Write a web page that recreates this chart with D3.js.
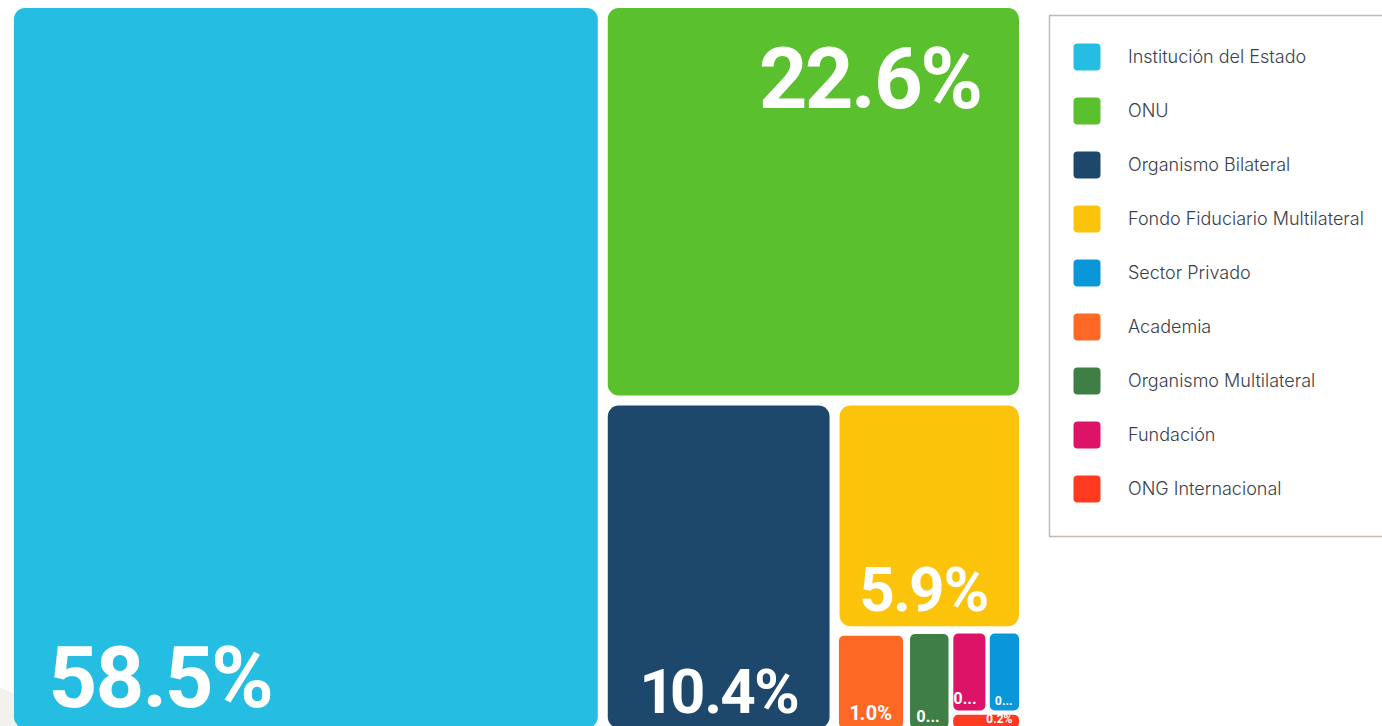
<!DOCTYPE html>
<html><head><meta charset="utf-8">
<script src="https://cdn.jsdelivr.net/npm/d3@7"></script>
<style>
html,body{margin:0;padding:0;background:#fff;overflow:hidden}
svg{display:block}
.lbl{font-variant-numeric:proportional-nums}
</style></head><body>
<svg id="chart" width="1382" height="726"></svg>
<script>
// ---- data ----
const categories = ["Institución del Estado","ONU","Organismo Bilateral","Fondo Fiduciario Multilateral","Sector Privado","Academia","Organismo Multilateral","Fundación","ONG Internacional"];
const shares = [58.5, 22.6, 10.4, 5.9, 0.4, 1.0, 0.6, 0.4, 0.2];
const colors = ["#26BDE2","#5AC02E","#1D476B","#FCC30B","#0A97D9","#FD6925","#3F7E44","#DD1367","#FF3A21"];

// ---- style config ----
const labelAnchor = {"Institución del Estado":"bottom-left","ONU":"top-right"}; // others bottom-right
const TW = 1015, TH = 730, OX = 9, OY = 3, VIEW_H = 726;
const svg = d3.select("#chart");
const fmt = d3.format(".1f");

// background decoration
svg.append("circle").attr("cx",-40).attr("cy",790).attr("r",110).attr("fill","#f2f1ec");

// strip tiling: each value (or run of equal values) takes a strip along the shorter side
function stripTile(parent, x0, y0, x1, y1) {
  const nodes = parent.children;
  let value = parent.value, i = 0;
  while (i < nodes.length) {
    let j = i + 1;
    const key = fmt(nodes[i].value);
    while (j < nodes.length && fmt(nodes[j].value) === key) j++;
    const row = nodes.slice(i, j);
    const rowValue = d3.sum(row, d => d.value);
    const k = value ? rowValue / value : 0;
    const last = j === nodes.length;
    const group = {children: row, value: rowValue};
    if (x1 - x0 >= y1 - y0) {
      const xe = last ? x1 : x0 + (x1 - x0) * k;
      d3.treemapSlice(group, x0, y0, xe, y1);
      x0 = xe;
    } else {
      const ye = last ? y1 : y0 + (y1 - y0) * k;
      d3.treemapDice(group, x0, y0, x1, ye);
      y0 = ye;
    }
    value -= rowValue;
    i = j;
  }
}

const data = categories.map((c, i) => ({name: c, value: shares[i], color: colors[i], idx: i}));
const root = d3.hierarchy({children: data})
  .sum(d => d.value || 0)
  .sort((a, b) => (b.value - a.value) || (b.data.idx - a.data.idx));

d3.treemap().tile(stripTile).size([TW, TH])(root);

const fontScale = d3.scaleThreshold().domain([30, 60, 150, 300]).range([12, 16, 20, 62, 85]);

const g = svg.append("g").attr("transform", `translate(${OX},${OY})`);
const cells = g.selectAll("g.cell").data(root.leaves()).join("g").attr("class","cell");

cells.each(function(d) {
  const sel = d3.select(this);
  const w0 = d.x1 - d.x0, h0 = d.y1 - d.y0;
  const inner = Math.max(2, Math.min(5, 0.06 * Math.min(w0, h0)));
  const eps = 0.5;
  const il = d.x0 < eps ? 5 : inner, ir = d.x1 > TW - eps ? 5 : inner;
  const it = d.y0 < eps ? 5 : inner, ib = d.y1 > TH - eps ? 5 : inner;
  const x = d.x0 + il, y = d.y0 + it, w = w0 - il - ir, h = h0 - it - ib;
  const r = Math.min(w, h) > 100 ? 11 : Math.min(5, h/2);
  sel.append("rect").attr("x", x).attr("y", y).attr("width", w).attr("height", h)
    .attr("rx", r).attr("ry", r).attr("fill", d.data.color);

  const fs = fontScale(Math.min(w, h));
  const pad = fs >= 50 ? 0.3*fs + 13 : Math.max(5, 0.55*fs);
  const bpad = fs >= 50 ? 0.25*fs : Math.max(5, 0.4*fs);
  const bottom = Math.min(y + h, VIEW_H + 2 - OY);
  const anchor = labelAnchor[d.data.name] || "bottom-right";
  const t = sel.append("text").attr("class","lbl")
    .attr("fill", "#fff")
    .attr("font-family", "Roboto, 'Open Sans', sans-serif")
    .attr("font-weight", 700)
    .attr("font-size", fs)
    .attr("letter-spacing", fs >= 50 ? "-0.03em" : "0")
    .text(fmt(d.data.value) + "%");
  if (anchor === "bottom-left") {
    t.attr("x", x + pad - 4).attr("y", bottom - bpad).attr("text-anchor","start");
  } else if (anchor === "top-right") {
    t.attr("x", x + w - pad).attr("y", y + pad + 0.72*fs).attr("text-anchor","end");
  } else {
    t.attr("x", x + w - pad).attr("y", bottom - bpad).attr("text-anchor","end");
  }
  // truncate if needed
  const avail = w - pad - 4;
  const full = t.text();
  if (t.node().getComputedTextLength() > avail) {
    let n = full.length - 1;
    while (n > 1) {
      t.text(full.slice(0, n) + "...");
      if (t.node().getComputedTextLength() <= avail) break;
      n--;
    }
    if (n <= 1) t.text(full.slice(0, 1) + "...");
  }
});

// ---- legend ----
const legend = svg.append("g");
legend.append("rect").attr("x", 1049.5).attr("y", 15.5).attr("width", 400).attr("height", 521)
  .attr("fill", "#fff").attr("stroke", "#c3bbaf").attr("stroke-width", 1.5);
const ly = d3.scalePoint().domain(categories).range([57, 57 + 54*(categories.length-1)]);
const items = legend.selectAll("g.item").data(data).join("g").attr("class","item")
  .attr("transform", d => `translate(0,${ly(d.name)})`);
items.append("rect").attr("x", 1073.5).attr("y", -13.5).attr("width", 27).attr("height", 27)
  .attr("rx", 4).attr("fill", d => d.color);
items.append("text").attr("x", 1128).attr("y", 0).attr("dy", "0.36em")
  .attr("font-family", "Inter, 'Noto Sans', sans-serif").attr("font-weight", 300)
  .attr("font-size", 18).attr("fill", "#3a404c").text(d => d.name);
</script>
</body></html>
